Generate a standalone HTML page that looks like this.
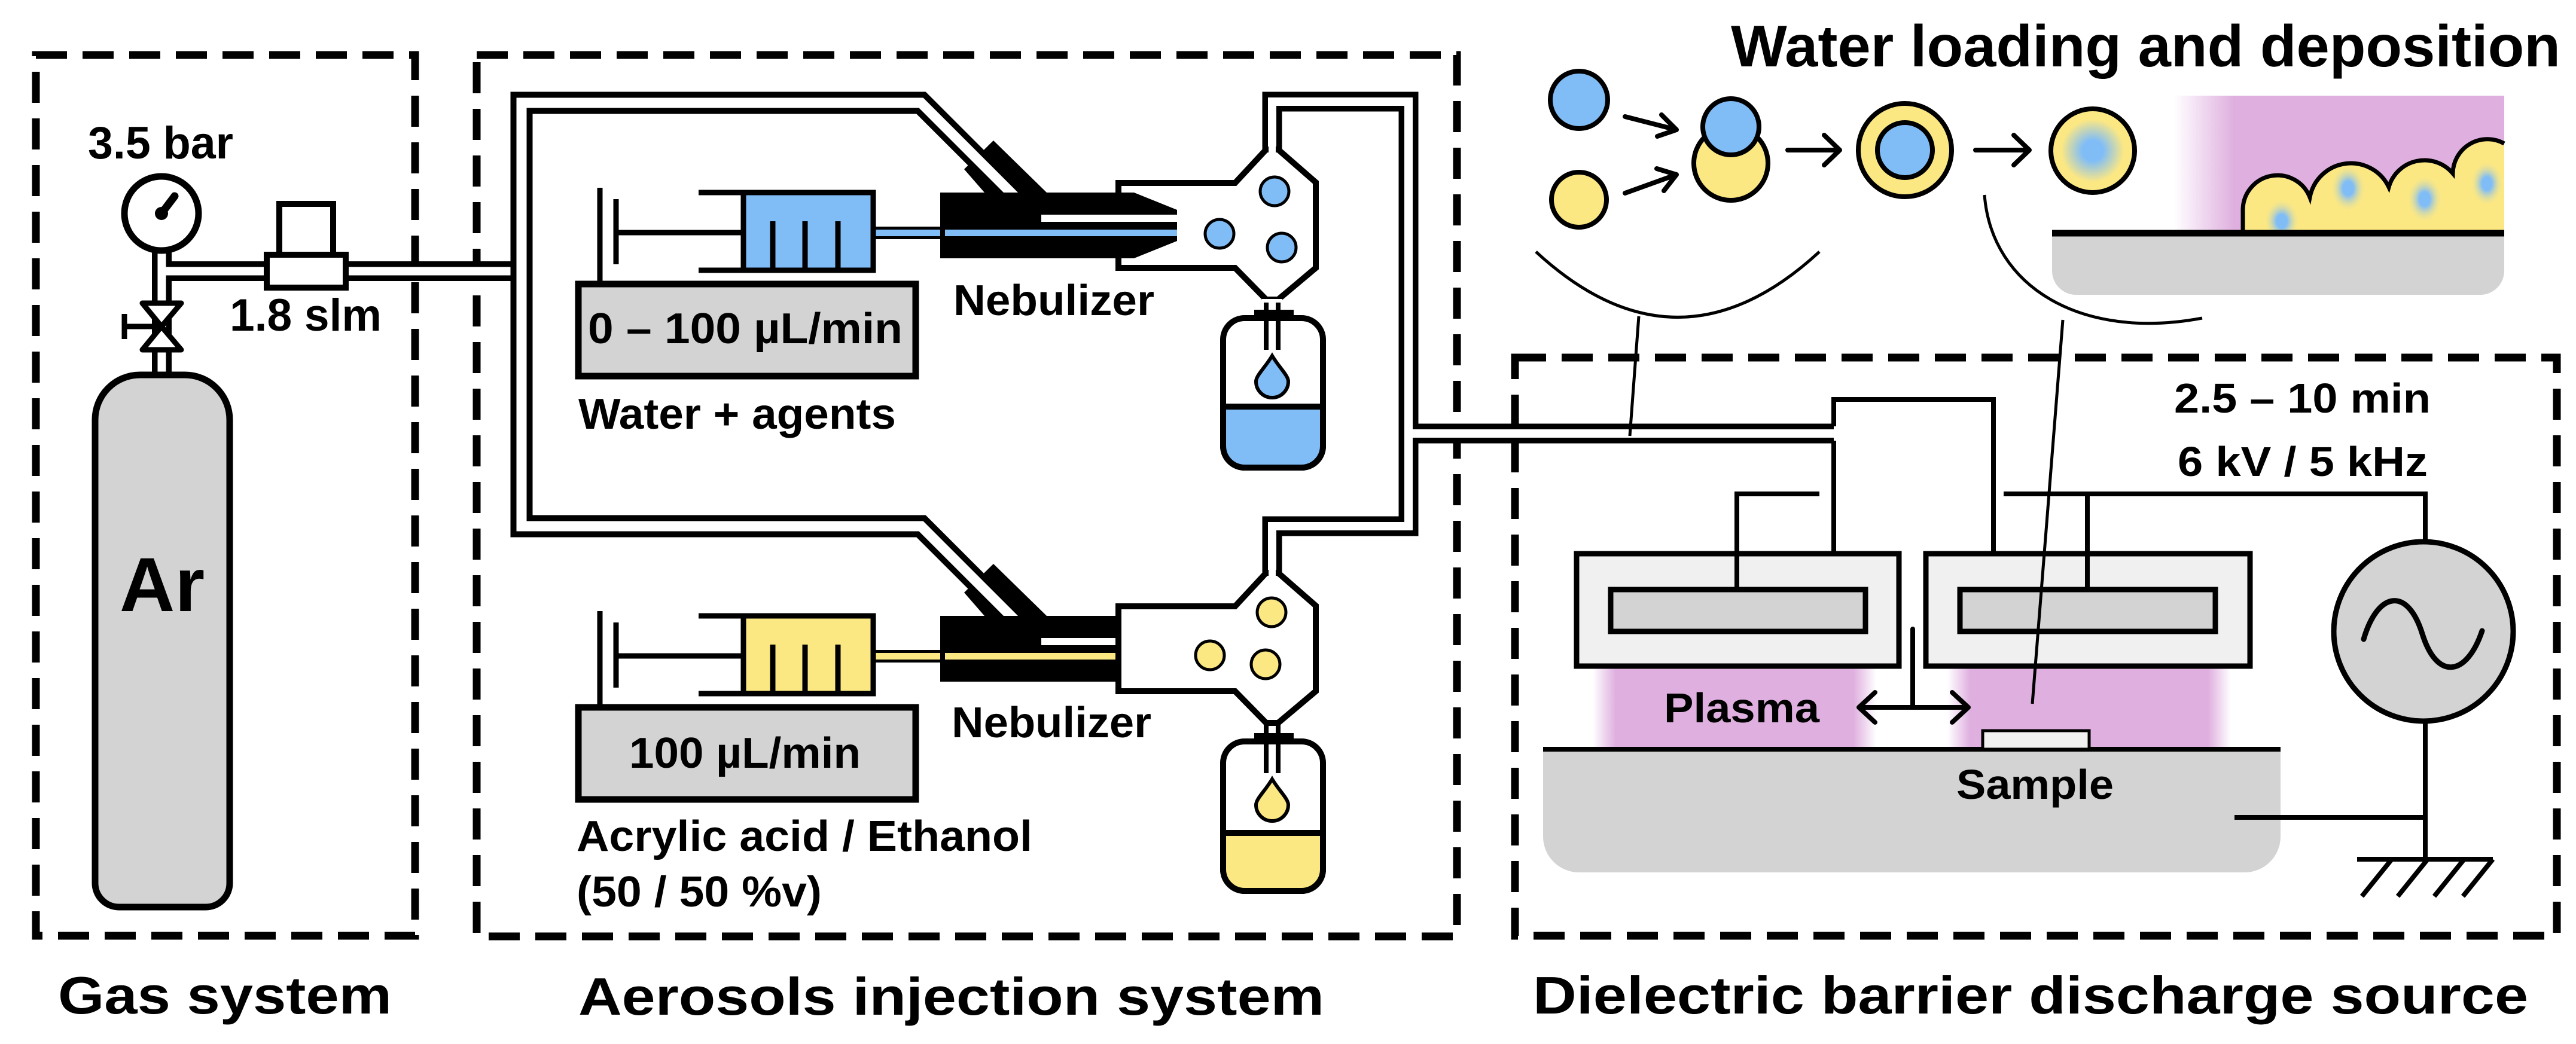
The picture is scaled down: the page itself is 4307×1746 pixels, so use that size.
<!DOCTYPE html>
<html><head><meta charset="utf-8"><style>html,body{margin:0;padding:0;background:#fff}svg{display:block}text{font-family:"Liberation Sans",Arial,sans-serif;font-weight:bold;fill:#000}</style></head><body>
<svg width="4307" height="1746" viewBox="0 0 4307 1746" xmlns="http://www.w3.org/2000/svg">
<defs>
<linearGradient id="pl" x1="0" x2="1" y1="0" y2="0"><stop offset="0" stop-color="#dfb0df" stop-opacity="0"/><stop offset="0.08" stop-color="#dfb0df"/><stop offset="0.92" stop-color="#dfb0df"/><stop offset="1" stop-color="#dfb0df" stop-opacity="0"/></linearGradient>
<linearGradient id="pd" x1="0" x2="1" y1="0" y2="0"><stop offset="0" stop-color="#dfb0df" stop-opacity="0"/><stop offset="0.18" stop-color="#dfb0df"/><stop offset="1" stop-color="#dfb0df"/></linearGradient>
<radialGradient id="bl"><stop offset="0" stop-color="#80bdf7"/><stop offset="0.25" stop-color="#80bdf7"/><stop offset="0.75" stop-color="#fce883"/><stop offset="1" stop-color="#fce883"/></radialGradient>
<radialGradient id="sp"><stop offset="0" stop-color="#80bdf7"/><stop offset="0.3" stop-color="#80bdf7"/><stop offset="1" stop-color="#fce883" stop-opacity="0"/></radialGradient>
<clipPath id="bc"><path d="M3750 388 L3750 350 A58 58 0 0 1 3862 330 A70 70 0 0 1 3994 313 A62 62 0 0 1 4101 290 A58 58 0 0 1 4187 240 L4187 388 Z"/></clipPath>
</defs>

<!-- dashed boxes -->
<g fill="none" stroke="#000" stroke-width="13" stroke-dasharray="52 26">
<rect x="60" y="92" width="634" height="1473"/>
<rect x="797" y="92" width="1639" height="1474"/>
<rect x="2533" y="598" width="1742" height="967"/>
</g>

<!-- section labels -->
<text x="97" y="1695" font-size="88" textLength="558" lengthAdjust="spacingAndGlyphs">Gas system</text>
<text x="967" y="1697" font-size="88" textLength="1247" lengthAdjust="spacingAndGlyphs">Aerosols injection system</text>
<text x="2563" y="1695" font-size="88" textLength="1664" lengthAdjust="spacingAndGlyphs">Dielectric barrier discharge source</text>

<!-- ===== GAS SYSTEM ===== -->
<text x="147" y="265" font-size="76" textLength="243" lengthAdjust="spacingAndGlyphs">3.5 bar</text>
<text x="384" y="553" font-size="76" textLength="254" lengthAdjust="spacingAndGlyphs">1.8 slm</text>
<!-- gas pipes -->
<g fill="none" stroke-linejoin="miter">
<path d="M270.5 420 V630 M270.5 453.5 H872" stroke="#000" stroke-width="33"/>
<path d="M270.5 420 V630 M270.5 453.5 H872" stroke="#fff" stroke-width="14"/>
</g>
<!-- gauge -->
<circle cx="270" cy="357" r="62" fill="#fff" stroke="#000" stroke-width="11"/>
<line x1="270" y1="357" x2="292" y2="328" stroke="#000" stroke-width="13" stroke-linecap="round"/>
<circle cx="270" cy="357" r="11" fill="#000"/>
<!-- MFC -->
<rect x="467" y="341" width="90" height="85" fill="#fff" stroke="#000" stroke-width="10"/>
<rect x="446" y="426" width="132" height="55" fill="#fff" stroke="#000" stroke-width="10"/>
<!-- valve -->
<line x1="208" y1="546" x2="270" y2="546" stroke="#000" stroke-width="9"/>
<line x1="208" y1="525" x2="208" y2="567" stroke="#000" stroke-width="9"/>
<polygon points="238,507 303,507 270,546" fill="#fff" stroke="#000" stroke-width="9" stroke-linejoin="round"/>
<polygon points="238,585 303,585 270,546" fill="#fff" stroke="#000" stroke-width="9" stroke-linejoin="round"/>
<!-- cylinder -->
<path d="M159 702 A75 75 0 0 1 234 627 H309 A75 75 0 0 1 384 702 V1477 A40 40 0 0 1 344 1517 H199 A40 40 0 0 1 159 1477 Z" fill="#d3d3d3" stroke="#000" stroke-width="11"/>
<text x="271" y="1022" font-size="128" text-anchor="middle">Ar</text>

<!-- ===== AEROSOL ===== -->
<!-- nebulizer bodies + fittings -->
<g id="neb">
<polygon points="1572,322 1896,322 1968,351 1968,403 1896,432 1572,432" fill="#000"/>
<polygon points="1612,283 1661,235 1750,322 1646,322" fill="#000"/>
<rect x="1460" y="379" width="120" height="21" fill="#000"/>
</g>
<use href="#neb" transform="translate(0,708)"/>
<!-- pipes black -->
<g fill="none" stroke="#000" stroke-linejoin="miter">
<path d="M1960 365 H1733 L1540 172 H872 V880 H1540 L1733 1073 H1960" stroke-width="37"/>
<path d="M2127 255 V170 H2355 V880 H2127 V962 M2355 725 H3066" stroke-width="33"/>
</g>
<!-- needles blue -->
<rect x="1460" y="384" width="508" height="11" fill="#80bdf7"/>
<rect x="1460" y="1092" width="508" height="11" fill="#fce883"/>
<!-- pipes white -->
<g fill="none" stroke="#fff" stroke-linejoin="miter">
<path d="M1960 365 H1733 L1540 172 H872 V880 H1540 L1733 1073 H1960" stroke-width="17"/>
<path d="M2127 255 V170 H2355 V880 H2127 V962 M2355 725 H3066" stroke-width="14"/>
</g>

<!-- syringes -->
<g id="syr" stroke="#000" stroke-width="9" fill="none">
<line x1="1003" y1="314" x2="1003" y2="478"/>
<line x1="1030" y1="333" x2="1030" y2="442"/>
<line x1="1030" y1="389" x2="1243" y2="389"/>
<rect x="1243" y="322" width="217" height="130" fill="#80bdf7" stroke="none"/>
<path d="M1168 322 H1460 V452 H1168"/>
<line x1="1243" y1="322" x2="1243" y2="452"/>
<path d="M1292 370 V452 M1346 370 V452 M1401 370 V452"/>
<rect x="967" y="475" width="564" height="154" fill="#d3d3d3" stroke-width="11"/>
</g>
<g transform="translate(0,708)" stroke="#000" stroke-width="9" fill="none">
<line x1="1003" y1="314" x2="1003" y2="478"/>
<line x1="1030" y1="333" x2="1030" y2="442"/>
<line x1="1030" y1="389" x2="1243" y2="389"/>
<rect x="1243" y="322" width="217" height="130" fill="#fce883" stroke="none"/>
<path d="M1168 322 H1460 V452 H1168"/>
<line x1="1243" y1="322" x2="1243" y2="452"/>
<path d="M1292 370 V452 M1346 370 V452 M1401 370 V452"/>
<rect x="967" y="475" width="564" height="154" fill="#d3d3d3" stroke-width="11"/>
</g>
<text x="983" y="574" font-size="72" textLength="526" lengthAdjust="spacingAndGlyphs">0 – 100 µL/min</text>
<text x="967" y="717" font-size="72" textLength="531" lengthAdjust="spacingAndGlyphs">Water + agents</text>
<text x="1594" y="527" font-size="72" textLength="336" lengthAdjust="spacingAndGlyphs">Nebulizer</text>
<text x="1052" y="1284" font-size="72" textLength="387" lengthAdjust="spacingAndGlyphs">100 µL/min</text>
<text x="1591" y="1233" font-size="72" textLength="334" lengthAdjust="spacingAndGlyphs">Nebulizer</text>
<text x="964" y="1423" font-size="72" textLength="762" lengthAdjust="spacingAndGlyphs">Acrylic acid / Ethanol</text>
<text x="964" y="1516" font-size="72" textLength="410" lengthAdjust="spacingAndGlyphs">(50 / 50 %v)</text>

<!-- chambers -->
<g id="ch">
<polygon points="1870,306 2065,306 2117,250 2137,250 2200,305 2200,448 2137,501 2117,501 2065,448 1870,448" fill="#fff" stroke="#000" stroke-width="10"/>
<rect x="1560" y="351" width="410" height="52" fill="none"/>
<rect x="2097" y="518" width="66" height="16" fill="#000"/>
<rect x="2045" y="532" width="167" height="250" rx="36" fill="#fff" stroke="#000" stroke-width="10"/>
<path d="M2117 501 V585 M2137 501 V585" stroke="#000" stroke-width="8"/>
<rect x="2110" y="500" width="34" height="6" fill="#fff"/>
</g>
<polygon points="1572,322 1896,322 1968,351 1968,403 1896,432 1572,432" fill="#000"/>
<polygon points="1572,1030 1896,1030 1968,1059 1968,1111 1896,1140 1572,1140" fill="#000"/>
<rect x="1741" y="359" width="227" height="12" fill="#fff"/>
<rect x="1741" y="1067" width="227" height="12" fill="#fff"/>
<rect x="1580" y="384" width="388" height="11" fill="#80bdf7"/>
<rect x="1580" y="1092" width="388" height="11" fill="#fce883"/>
<!-- liquid top -->
<path d="M2045 680 H2212 V746 A36 36 0 0 1 2176 782 H2081 A36 36 0 0 1 2045 746 Z" fill="#80bdf7" stroke="#000" stroke-width="10"/>
<path d="M2127 595 C2115 615 2100 628 2100 638 A27 27 0 0 0 2154 638 C2154 628 2139 615 2127 595 Z" fill="#80bdf7" stroke="#000" stroke-width="6"/>
<circle cx="2131" cy="320" r="24" fill="#80bdf7" stroke="#000" stroke-width="5"/>
<circle cx="2039" cy="391" r="24" fill="#80bdf7" stroke="#000" stroke-width="5"/>
<circle cx="2143" cy="414" r="24" fill="#80bdf7" stroke="#000" stroke-width="5"/>
<!-- bottom chamber -->
<g transform="translate(0,708)">
<polygon points="1870,306 2065,306 2117,250 2137,250 2200,305 2200,448 2137,501 2117,501 2065,448 1870,448" fill="#fff" stroke="#000" stroke-width="10"/>
<rect x="2097" y="518" width="66" height="16" fill="#000"/>
<rect x="2045" y="532" width="167" height="250" rx="36" fill="#fff" stroke="#000" stroke-width="10"/>
<path d="M2117 501 V585 M2137 501 V585" stroke="#000" stroke-width="8"/>
<path d="M2045 685 H2212 V746 A36 36 0 0 1 2176 782 H2081 A36 36 0 0 1 2045 746 Z" fill="#fce883" stroke="#000" stroke-width="10"/>
<path d="M2127 595 C2115 615 2100 628 2100 638 A27 27 0 0 0 2154 638 C2154 628 2139 615 2127 595 Z" fill="#fce883" stroke="#000" stroke-width="6"/>
<circle cx="2126" cy="316" r="24" fill="#fce883" stroke="#000" stroke-width="5"/>
<circle cx="2023" cy="388" r="24" fill="#fce883" stroke="#000" stroke-width="5"/>
<circle cx="2116" cy="403" r="24" fill="#fce883" stroke="#000" stroke-width="5"/>
</g>
<!-- re-open necks into pipes -->
<rect x="2121" y="240" width="12" height="20" fill="#fff"/>
<rect x="2121" y="948" width="12" height="20" fill="#fff"/>

<!-- ===== DBD ===== -->
<rect x="2663" y="1114" width="474" height="139" fill="url(#pl)"/>
<rect x="3256" y="1114" width="474" height="139" fill="url(#pl)"/>
<path d="M2580 1253 H3813 V1399 A60 60 0 0 1 3753 1459 H2640 A60 60 0 0 1 2580 1399 Z" fill="#d3d3d3"/>
<line x1="2580" y1="1253" x2="3813" y2="1253" stroke="#000" stroke-width="8"/>
<rect x="3315" y="1222" width="178" height="31" fill="#f0f0f0" stroke="#000" stroke-width="5"/>
<g fill="none" stroke="#000" stroke-width="8">
<path d="M3066 713 V668 H3333 V926"/>
<path d="M3066 737 V926"/>
<path d="M3042 826 H2904 V986"/>
<path d="M3350 826 H4055 V904"/>
<path d="M3490 826 V986"/>
<path d="M4055 1208 V1437 M3736 1367 H4055 M3941 1437 H4168"/>
<path d="M3999 1437 l-50 62 M4059 1437 l-50 62 M4120 1437 l-50 62 M4168 1437 l-50 62"/>
</g>
<rect x="2636" y="926" width="539" height="188" fill="#f0f0f0" stroke="#000" stroke-width="9"/>
<rect x="2693" y="986" width="426" height="70" fill="#d3d3d3" stroke="#000" stroke-width="9"/>
<rect x="3220" y="926" width="542" height="188" fill="#f0f0f0" stroke="#000" stroke-width="9"/>
<rect x="3277" y="986" width="427" height="70" fill="#d3d3d3" stroke="#000" stroke-width="9"/>
<line x1="2904" y1="926" x2="2904" y2="986" stroke="#000" stroke-width="8"/>
<line x1="3490" y1="926" x2="3490" y2="986" stroke="#000" stroke-width="8"/>
<circle cx="4052" cy="1056" r="150" fill="#d3d3d3" stroke="#000" stroke-width="9"/>
<path d="M3952 1069 C3975 990 4025 980 4050 1060 C4075 1140 4125 1130 4150 1055" fill="none" stroke="#000" stroke-width="9" stroke-linecap="round"/>
<g fill="none" stroke="#000" stroke-width="8" stroke-linecap="round" stroke-linejoin="round">
<path d="M3198 1052 V1183 M3108 1183 H3291 M3135 1158 L3108 1183 L3135 1208 M3264 1158 L3291 1183 L3264 1208"/>
</g>
<text x="2782" y="1208" font-size="70" textLength="260" lengthAdjust="spacingAndGlyphs">Plasma</text>
<text x="3271" y="1336" font-size="70" textLength="263" lengthAdjust="spacingAndGlyphs">Sample</text>
<text x="3635" y="690" font-size="70" textLength="429" lengthAdjust="spacingAndGlyphs">2.5 – 10 min</text>
<text x="3641" y="796" font-size="70" textLength="418" lengthAdjust="spacingAndGlyphs">6 kV / 5 kHz</text>

<!-- ===== Water loading ===== -->
<text x="2894" y="111" font-size="98" textLength="1387" lengthAdjust="spacingAndGlyphs">Water loading and deposition</text>
<circle cx="2640" cy="167" r="48" fill="#80bdf7" stroke="#000" stroke-width="8"/>
<circle cx="2640" cy="334" r="46" fill="#fce883" stroke="#000" stroke-width="8"/>
<circle cx="2894" cy="273" r="62" fill="#fce883" stroke="#000" stroke-width="8"/>
<circle cx="2894" cy="212" r="47" fill="#80bdf7" stroke="#000" stroke-width="8"/>
<circle cx="3185" cy="251" r="78" fill="#fce883" stroke="#000" stroke-width="8"/>
<circle cx="3185" cy="251" r="46" fill="#80bdf7" stroke="#000" stroke-width="8"/>
<circle cx="3499" cy="252" r="70" fill="url(#bl)" stroke="#000" stroke-width="8"/>
<g fill="none" stroke="#000" stroke-width="8" stroke-linecap="round" stroke-linejoin="round">
<path d="M2717 195 L2803 217 M2778 192 L2803 217 L2771 228"/>
<path d="M2717 323 L2803 292 M2770 282 L2803 292 L2782 319"/>
<path d="M2989 251 H3076 M3050 226 L3076 251 L3050 276"/>
<path d="M3303 251 H3393 M3367 226 L3393 251 L3367 276"/>
</g>
<rect x="3635" y="160" width="552" height="228" fill="url(#pd)"/>
<path d="M3431 390 H4187 V453 A40 40 0 0 1 4147 493 H3471 A40 40 0 0 1 3431 453 Z" fill="#d3d3d3"/>
<path d="M3750 388 L3750 350 A58 58 0 0 1 3862 330 A70 70 0 0 1 3994 313 A62 62 0 0 1 4101 290 A58 58 0 0 1 4187 240 L4187 388 Z" fill="#fce883"/>
<g clip-path="url(#bc)">
<ellipse cx="3815" cy="370" rx="30" ry="38" fill="url(#sp)"/>
<ellipse cx="3926" cy="315" rx="30" ry="40" fill="url(#sp)"/>
<ellipse cx="4054" cy="333" rx="30" ry="40" fill="url(#sp)"/>
<ellipse cx="4158" cy="307" rx="28" ry="38" fill="url(#sp)"/>
</g>
<path d="M3750 388 L3750 350 A58 58 0 0 1 3862 330 A70 70 0 0 1 3994 313 A62 62 0 0 1 4101 290 A58 58 0 0 1 4187 240" fill="none" stroke="#000" stroke-width="7"/>
<line x1="3431" y1="390" x2="4187" y2="390" stroke="#000" stroke-width="11"/>
<g fill="none" stroke="#000" stroke-width="5">
<path d="M2568 421 Q2805 640 3042 421"/>
<path d="M2740 529 L2725 729"/>
<path d="M3318 326 C3330 480 3480 570 3682 532"/>
<path d="M3449 535 L3398 1177"/>
</g>
</svg>
</body></html>
